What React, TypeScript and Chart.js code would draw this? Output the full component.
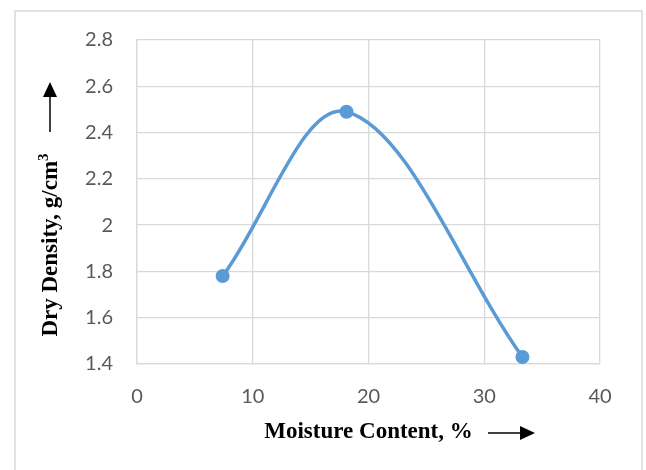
import React, { useEffect, useRef } from "react";
import { Chart, registerables } from "chart.js";

Chart.register(...registerables);

const moisture = [7.4, 18.1, 33.3];
const dryDensity = [1.78, 2.49, 1.43];
const xTickValues = [0, 10, 20, 30, 40];
const yTickValues = [1.4, 1.6, 1.8, 2.0, 2.2, 2.4, 2.6, 2.8];
const xTitle = "Moisture Content, %";
const yTitleMain = "Dry Density, g/cm";
const yTitleSup = "3";

const W = 646;
const H = 470;
const TITLE_FONT = "bold 23px 'Liberation Serif', 'Times New Roman', serif";
const SUP_FONT = "bold 15px 'Liberation Serif', 'Times New Roman', serif";

function arrow(ctx: CanvasRenderingContext2D, x1: number, y1: number, x2: number, y2: number) {
  const ang = Math.atan2(y2 - y1, x2 - x1);
  const hl = 15;
  const hw = 7;
  const bx = x2 - hl * Math.cos(ang);
  const by = y2 - hl * Math.sin(ang);
  ctx.save();
  ctx.strokeStyle = "#000";
  ctx.fillStyle = "#000";
  ctx.lineWidth = 1.5;
  ctx.beginPath();
  ctx.moveTo(x1, y1);
  ctx.lineTo(bx, by);
  ctx.stroke();
  ctx.beginPath();
  ctx.moveTo(x2, y2);
  ctx.lineTo(bx + hw * Math.sin(ang), by - hw * Math.cos(ang));
  ctx.lineTo(bx - hw * Math.sin(ang), by + hw * Math.cos(ang));
  ctx.closePath();
  ctx.fill();
  ctx.restore();
}

const decorPlugin = {
  id: "decor",
  afterDraw(chart: any) {
    const ctx: CanvasRenderingContext2D = chart.ctx;
    ctx.save();
    ctx.strokeStyle = "#D9D9D9";
    ctx.lineWidth = 1.5;
    ctx.strokeRect(15, 11, 627, 480);

    ctx.fillStyle = "#000";
    ctx.font = TITLE_FONT;
    ctx.textBaseline = "alphabetic";
    ctx.textAlign = "left";
    const xw = ctx.measureText(xTitle).width;
    const xc = 368.5;
    ctx.fillText(xTitle, xc - xw / 2, 438);
    arrow(ctx, 488, 433, 535, 433);

    ctx.save();
    ctx.translate(57, 245);
    ctx.rotate(-Math.PI / 2);
    ctx.font = TITLE_FONT;
    const mw = ctx.measureText(yTitleMain).width;
    ctx.font = SUP_FONT;
    const sw = ctx.measureText(yTitleSup).width;
    const total = mw + sw;
    ctx.font = TITLE_FONT;
    ctx.fillText(yTitleMain, -total / 2, 0);
    ctx.font = SUP_FONT;
    ctx.fillText(yTitleSup, -total / 2 + mw, -9);
    ctx.restore();
    arrow(ctx, 50, 132, 50, 82);
    ctx.restore();
  },
};

export default function App() {
  const ref = useRef<HTMLCanvasElement | null>(null);
  useEffect(() => {
    if (!ref.current) return;
    const tickFont = { family: "Lato, Calibri, sans-serif", size: 20 };
    const chart = new Chart(ref.current, {
      type: "scatter",
      data: {
        datasets: [
          {
            data: moisture.map((x, i) => ({ x, y: dryDensity[i] })),
            showLine: true,
            borderColor: "#5B9BD5",
            backgroundColor: "#5B9BD5",
            borderWidth: 3.5,
            tension: 0.35,
            pointRadius: 7,
            pointBorderWidth: 0,
            pointBackgroundColor: "#5B9BD5",
          },
        ],
      },
      options: {
        animation: false,
        responsive: false,
        events: [],
        layout: { padding: { left: 0, top: 40, right: 46, bottom: 0 } },
        plugins: { legend: { display: false }, tooltip: { enabled: false } },
        scales: {
          x: {
            type: "linear",
            min: 0,
            max: 40,
            afterBuildTicks: (s: any) => {
              s.ticks = xTickValues.map((v) => ({ value: v }));
            },
            afterFit: (s: any) => {
              s.height = 106;
            },
            ticks: { font: tickFont, color: "#595959", padding: 21 },
            grid: { color: "#D9D9D9", lineWidth: 1.3, drawTicks: false },
            border: { color: "#D9D9D9", width: 1.3 },
          },
          y: {
            type: "linear",
            min: 1.4,
            max: 2.8,
            afterBuildTicks: (s: any) => {
              s.ticks = yTickValues.map((v) => ({ value: v }));
            },
            afterFit: (s: any) => {
              s.width = 137;
            },
            ticks: {
              font: tickFont,
              color: "#595959",
              padding: 24,
              callback: (v: any) => String(Math.round(Number(v) * 10) / 10),
            },
            grid: { color: "#D9D9D9", lineWidth: 1.3, drawTicks: false },
            border: { color: "#D9D9D9", width: 1.3 },
          },
        },
      },
      plugins: [decorPlugin],
    });
    return () => chart.destroy();
  }, []);
  return (
    <div style={{ position: "fixed", left: 0, top: 0, width: W, height: H, background: "#fff" }}>
      <canvas ref={ref} width={W} height={H} style={{ display: "block" }} />
    </div>
  );
}
